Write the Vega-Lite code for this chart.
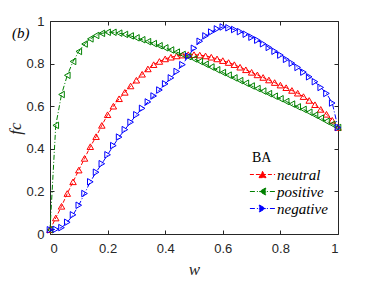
{
  "$schema": "https://vega.github.io/schema/vega-lite/v6.json",
  "width": 288,
  "height": 213,
  "autosize": {"type": "none"},
  "padding": {"left": 50, "top": 21, "right": 36, "bottom": 47},
  "datasets": {"curves": [
    {"w": 0, "neutral": 0.02, "positive": 0.02, "negative": 0.02},
    {"w": 0.02, "neutral": 0.075, "positive": 0.51, "negative": 0.022},
    {"w": 0.04, "neutral": 0.13, "positive": 0.655, "negative": 0.03},
    {"w": 0.06, "neutral": 0.19, "positive": 0.745, "negative": 0.055},
    {"w": 0.08, "neutral": 0.245, "positive": 0.81, "negative": 0.09},
    {"w": 0.1, "neutral": 0.3, "positive": 0.857, "negative": 0.135},
    {"w": 0.12, "neutral": 0.355, "positive": 0.892, "negative": 0.19},
    {"w": 0.14, "neutral": 0.41, "positive": 0.916, "negative": 0.245},
    {"w": 0.16, "neutral": 0.457, "positive": 0.932, "negative": 0.29},
    {"w": 0.18, "neutral": 0.51, "positive": 0.942, "negative": 0.33},
    {"w": 0.2, "neutral": 0.56, "positive": 0.947, "negative": 0.372},
    {"w": 0.22, "neutral": 0.6, "positive": 0.947, "negative": 0.415},
    {"w": 0.24, "neutral": 0.635, "positive": 0.943, "negative": 0.455},
    {"w": 0.26, "neutral": 0.665, "positive": 0.937, "negative": 0.49},
    {"w": 0.28, "neutral": 0.695, "positive": 0.93, "negative": 0.525},
    {"w": 0.3, "neutral": 0.722, "positive": 0.921, "negative": 0.56},
    {"w": 0.32, "neutral": 0.75, "positive": 0.912, "negative": 0.59},
    {"w": 0.34, "neutral": 0.775, "positive": 0.903, "negative": 0.62},
    {"w": 0.36, "neutral": 0.795, "positive": 0.894, "negative": 0.648},
    {"w": 0.38, "neutral": 0.81, "positive": 0.884, "negative": 0.676},
    {"w": 0.4, "neutral": 0.822, "positive": 0.874, "negative": 0.705},
    {"w": 0.42, "neutral": 0.83, "positive": 0.864, "negative": 0.733},
    {"w": 0.44, "neutral": 0.836, "positive": 0.854, "negative": 0.763},
    {"w": 0.46, "neutral": 0.84, "positive": 0.843, "negative": 0.795},
    {"w": 0.48, "neutral": 0.842, "positive": 0.833, "negative": 0.835},
    {"w": 0.5, "neutral": 0.842, "positive": 0.822, "negative": 0.872},
    {"w": 0.52, "neutral": 0.84, "positive": 0.81, "negative": 0.905},
    {"w": 0.54, "neutral": 0.836, "positive": 0.797, "negative": 0.93},
    {"w": 0.56, "neutral": 0.83, "positive": 0.784, "negative": 0.948},
    {"w": 0.58, "neutral": 0.822, "positive": 0.771, "negative": 0.963},
    {"w": 0.6, "neutral": 0.814, "positive": 0.758, "negative": 0.972},
    {"w": 0.62, "neutral": 0.805, "positive": 0.746, "negative": 0.968},
    {"w": 0.64, "neutral": 0.795, "positive": 0.733, "negative": 0.96},
    {"w": 0.66, "neutral": 0.783, "positive": 0.72, "negative": 0.95},
    {"w": 0.68, "neutral": 0.771, "positive": 0.708, "negative": 0.938},
    {"w": 0.7, "neutral": 0.759, "positive": 0.695, "negative": 0.924},
    {"w": 0.72, "neutral": 0.747, "positive": 0.683, "negative": 0.91},
    {"w": 0.74, "neutral": 0.735, "positive": 0.671, "negative": 0.893},
    {"w": 0.76, "neutral": 0.723, "positive": 0.659, "negative": 0.876},
    {"w": 0.78, "neutral": 0.711, "positive": 0.647, "negative": 0.858},
    {"w": 0.8, "neutral": 0.699, "positive": 0.635, "negative": 0.84},
    {"w": 0.82, "neutral": 0.687, "positive": 0.622, "negative": 0.82},
    {"w": 0.84, "neutral": 0.674, "positive": 0.61, "negative": 0.802},
    {"w": 0.86, "neutral": 0.661, "positive": 0.597, "negative": 0.782},
    {"w": 0.88, "neutral": 0.645, "positive": 0.585, "negative": 0.76},
    {"w": 0.9, "neutral": 0.627, "positive": 0.572, "negative": 0.738},
    {"w": 0.92, "neutral": 0.607, "positive": 0.558, "negative": 0.715},
    {"w": 0.94, "neutral": 0.585, "positive": 0.544, "negative": 0.688},
    {"w": 0.96, "neutral": 0.562, "positive": 0.529, "negative": 0.66},
    {"w": 0.98, "neutral": 0.534, "positive": 0.515, "negative": 0.615},
    {"w": 1, "neutral": 0.5, "positive": 0.5, "negative": 0.5}
  ],
  "panel": [{"label": "(b)", "x": -0.132, "y": 0.945}]},
  "layer": [
    {
      "data": {"name": "curves"},
      "transform": [{"fold": ["neutral", "positive", "negative"], "as": ["type", "f"]}],
      "mark": {"type": "line", "strokeWidth": 1},
      "encoding": {
        "x": {"field": "w", "type": "quantitative", "scale": {"domain": [0, 1], "nice": false},
          "axis": {"orient": "bottom", "values": [0, 0.2, 0.4, 0.6, 0.8, 1], "format": "~g", "grid": false, "tickSize": -4, "labelPadding": 12,
            "title": "w", "titleFont": "Liberation Serif", "titleFontStyle": "italic", "titleFontSize": 17, "titleFontWeight": "normal", "titleColor": "#262626", "titleY": 35, "titleBaseline": "middle"}},
        "y": {"field": "f", "type": "quantitative", "scale": {"domain": [0, 1], "nice": false},
          "axis": {"orient": "left", "values": [0, 0.2, 0.4, 0.6, 0.8, 1], "format": "~g", "grid": false, "tickSize": -4, "labelPadding": 10,
            "title": "fc", "titleFont": "Liberation Serif", "titleFontStyle": "italic", "titleFontSize": 17, "titleFontWeight": "normal", "titleColor": "#262626", "titleX": -35, "titleY": 107, "titleAngle": 270, "titleBaseline": "middle", "titleAlign": "center"}},
        "color": {"field": "type", "type": "nominal",
          "scale": {"domain": ["neutral", "positive", "negative"], "range": ["#ff0000", "#008000", "#0000ff"]},
          "legend": {"title": "BA", "orient": "none", "legendX": 202, "legendY": 130, "symbolSize": 196, "symbolOffset": 3, "labelOffset": 7, "rowPadding": 1,
            "titleFont": "Liberation Serif", "titleFontSize": 14, "titleFontWeight": "normal", "titleColor": "#000", "titlePadding": 2,
            "labelFont": "Liberation Serif", "labelFontStyle": "italic", "labelFontSize": 15, "labelColor": "#000",
            "encode": {"symbols": {"update": {
              "shape": {"signal": "datum.value === 'neutral' ? 'M-1.8,0H1.8M-0.5,0.45L0,-0.45L0.5,0.45Z' : (datum.value === 'positive' ? 'M-1.8,0H1.8M0.45,-0.5L-0.45,0L0.45,0.5Z' : 'M-1.8,0H1.8M-0.45,-0.5L0.45,0L-0.45,0.5Z')"},
              "fill": {"scale": "color", "field": "value"},
              "stroke": {"scale": "color", "field": "value"},
              "strokeDash": {"value": [3, 2]},
              "strokeWidth": {"value": 1},
              "opacity": {"value": 1}
            }}}}},
        "strokeDash": {"field": "type", "type": "nominal",
          "scale": {"domain": ["neutral", "positive", "negative"], "range": [[4, 2], [5, 2, 1, 2], [5, 2, 1, 2]]}, "legend": null}
      }
    },
    {
      "data": {"name": "curves"},
      "transform": [{"fold": ["neutral"], "as": ["type", "f"]}],
      "mark": {"type": "point", "filled": false, "strokeWidth": 1, "size": 42, "opacity": 1, "shape": "triangle-up", "color": "#ff0000"},
      "encoding": {
        "x": {"field": "w", "type": "quantitative",
          "axis": {"orient": "top", "values": [0, 0.2, 0.4, 0.6, 0.8, 1], "labels": false, "grid": false, "tickSize": -4, "title": null}},
        "y": {"field": "f", "type": "quantitative",
          "axis": {"orient": "right", "values": [0, 0.2, 0.4, 0.6, 0.8, 1], "labels": false, "grid": false, "tickSize": -4, "title": null}}
      }
    },
    {
      "data": {"name": "curves"},
      "transform": [{"fold": ["positive"], "as": ["type", "f"]}],
      "mark": {"type": "point", "filled": false, "strokeWidth": 1, "size": 42, "opacity": 1, "shape": "triangle-left", "color": "#008000"},
      "encoding": {
        "x": {"field": "w", "type": "quantitative", "axis": null},
        "y": {"field": "f", "type": "quantitative", "axis": null}
      }
    },
    {
      "data": {"name": "curves"},
      "transform": [{"fold": ["negative"], "as": ["type", "f"]}],
      "mark": {"type": "point", "filled": false, "strokeWidth": 1, "size": 42, "opacity": 1, "shape": "triangle-right", "color": "#0000ff"},
      "encoding": {
        "x": {"field": "w", "type": "quantitative", "axis": null},
        "y": {"field": "f", "type": "quantitative", "axis": null}
      }
    },
    {
      "data": {"name": "panel"},
      "mark": {"type": "text", "font": "Liberation Serif", "fontStyle": "italic", "fontSize": 15, "align": "left", "baseline": "middle", "color": "#000"},
      "encoding": {
        "x": {"field": "x", "type": "quantitative", "axis": null},
        "y": {"field": "y", "type": "quantitative", "axis": null},
        "text": {"field": "label"}
      }
    }
  ],
  "resolve": {"axis": {"x": "independent", "y": "independent"}},
  "config": {
    "view": {"stroke": null},
    "axis": {"domainColor": "#262626", "tickColor": "#262626", "labelColor": "#262626", "labelFont": "Liberation Sans", "labelFontSize": 13, "domainWidth": 1, "tickWidth": 1}
  }
}
